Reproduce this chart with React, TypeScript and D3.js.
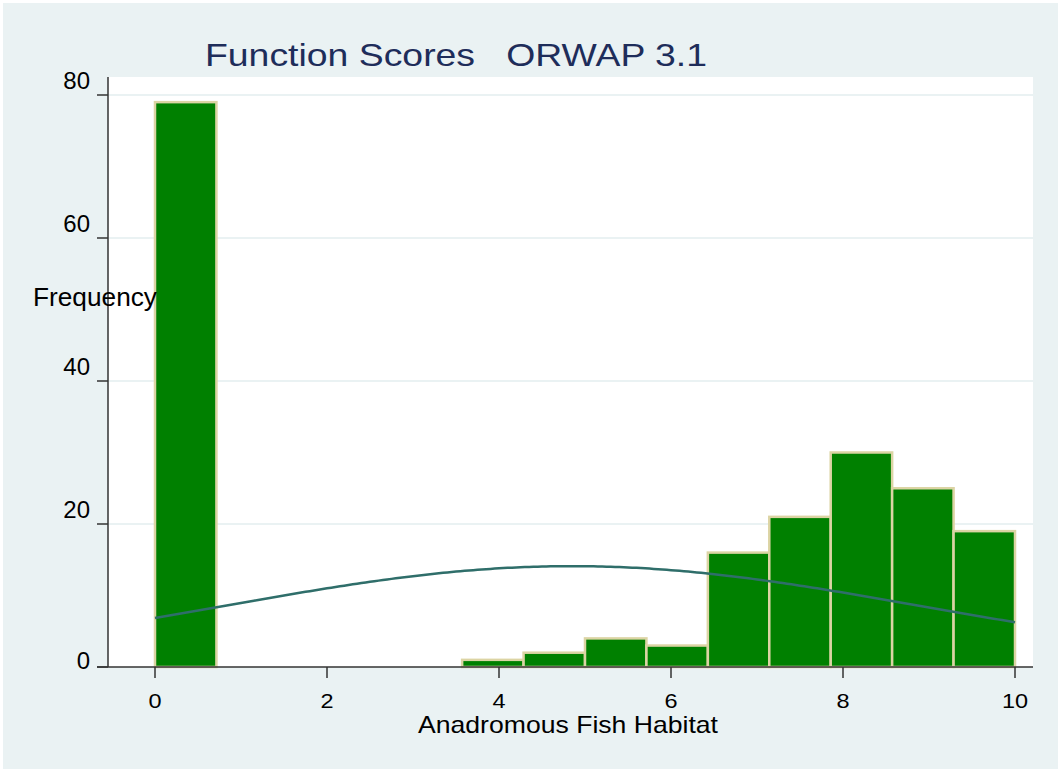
import * as d3 from "d3";
import { useEffect, useRef } from "react";

// histogram counts, 14 equal bins over 0..10
const binCounts = [79, 0, 0, 0, 0, 1, 2, 4, 3, 16, 21, 30, 25, 19];
const binStart = 0;
const binEnd = 10;

// fitted normal overlay
const normalMean = 4.85;
const normalSd = 4.04;

const xTicks = [0, 2, 4, 6, 8, 10];
const yTicks = [0, 20, 40, 60, 80];

const titleText = "Function Scores   ORWAP 3.1";
const xTitle = "Anadromous Fish Habitat";
const yTitle = "Frequency";

function App() {
  const ref = useRef<SVGSVGElement | null>(null);

  useEffect(() => {
    drawChart();
  }, []);

  const drawChart = () => {
    const W = 1061;
    const H = 772;
    const font = "'Liberation Sans', Arial, sans-serif";

    const svg = d3.select(ref.current);
    svg.selectAll("*").remove();

    // backgrounds
    svg.append("rect").attr("width", W).attr("height", H).attr("fill", "#fff");
    svg
      .append("rect")
      .attr("x", 3)
      .attr("y", 3)
      .attr("width", W - 6)
      .attr("height", H - 6)
      .attr("fill", "#EAF2F3");

    const plot = { left: 108, right: 1033, top: 77, bottom: 667 };
    svg
      .append("rect")
      .attr("x", plot.left)
      .attr("y", plot.top)
      .attr("width", plot.right - plot.left)
      .attr("height", plot.bottom - plot.top)
      .attr("fill", "#fff");

    const xScale = d3.scaleLinear().domain([0, 10]).range([155, 1015]);
    const yScale = d3.scaleLinear().domain([0, 80]).range([667, 95]);

    // grid lines
    svg
      .append("g")
      .selectAll("line")
      .data(yTicks.filter((d) => d > 0))
      .join("line")
      .attr("x1", plot.left)
      .attr("x2", plot.right)
      .attr("y1", (d) => yScale(d))
      .attr("y2", (d) => yScale(d))
      .attr("stroke", "#EAF2F3")
      .attr("stroke-width", 2);

    // bars
    const bw = (binEnd - binStart) / binCounts.length;
    const bins = binCounts.map((c, i) => ({
      x0: binStart + i * bw,
      x1: binStart + (i + 1) * bw,
      count: c,
    }));
    svg
      .append("g")
      .selectAll("rect")
      .data(bins.filter((b) => b.count > 0))
      .join("rect")
      .attr("x", (d) => xScale(d.x0))
      .attr("width", (d) => xScale(d.x1) - xScale(d.x0))
      .attr("y", (d) => yScale(d.count))
      .attr("height", (d) => yScale(0) - yScale(d.count))
      .attr("fill", "#008000")
      .attr("stroke", "#DCD4A4")
      .attr("stroke-width", 2.5);

    // normal density scaled to counts
    const total = d3.sum(binCounts);
    const xs = d3.range(0, 200 + 1).map((i) => binStart + (i / 200) * (binEnd - binStart));
    const dens = (x: number) =>
      (total * bw * Math.exp(-((x - normalMean) ** 2) / (2 * normalSd * normalSd))) /
      (normalSd * Math.sqrt(2 * Math.PI));
    const line = d3
      .line<number>()
      .x((d) => xScale(d))
      .y((d) => yScale(dens(d)));
    svg
      .append("path")
      .datum(xs)
      .attr("fill", "none")
      .attr("stroke", "#2F6E6A")
      .attr("stroke-width", 2.5)
      .attr("d", line);

    // axes
    const axisColor = "#333";
    svg
      .append("line")
      .attr("x1", plot.left)
      .attr("x2", plot.left)
      .attr("y1", plot.top)
      .attr("y2", plot.bottom)
      .attr("stroke", axisColor)
      .attr("stroke-width", 1.5);
    svg
      .append("line")
      .attr("x1", 97)
      .attr("x2", plot.right)
      .attr("y1", plot.bottom)
      .attr("y2", plot.bottom)
      .attr("stroke", axisColor)
      .attr("stroke-width", 1.5);

    const yAx = svg.append("g");
    yAx
      .selectAll("line")
      .data(yTicks)
      .join("line")
      .attr("x1", 97)
      .attr("x2", plot.left)
      .attr("y1", (d) => yScale(d))
      .attr("y2", (d) => yScale(d))
      .attr("stroke", axisColor)
      .attr("stroke-width", 1.5);
    yAx
      .selectAll("text")
      .data(yTicks)
      .join("text")
      .attr("x", 90)
      .attr("y", (d) => (d === 0 ? yScale(d) + 2 : yScale(d) - 6))
      .attr("text-anchor", "end")
      .attr("font-family", font)
      .attr("font-size", 24)
      .attr("fill", "#000")
      .text((d) => d);

    const xAx = svg.append("g");
    xAx
      .selectAll("line")
      .data(xTicks)
      .join("line")
      .attr("x1", (d) => xScale(d))
      .attr("x2", (d) => xScale(d))
      .attr("y1", plot.bottom)
      .attr("y2", plot.bottom + 11)
      .attr("stroke", axisColor)
      .attr("stroke-width", 1.5);
    xAx
      .selectAll("text")
      .data(xTicks)
      .join("text")
      .attr("transform", (d) => `translate(${xScale(d)},708) scale(1.12,1)`)
      .attr("text-anchor", "middle")
      .attr("font-family", font)
      .attr("font-size", 21)
      .attr("fill", "#000")
      .text((d) => d);

    // titles
    svg
      .append("text")
      .attr("x", 205)
      .attr("y", 66)
      .attr("font-family", font)
      .attr("font-size", 32)
      .attr("fill", "#1E2D5A")
      .attr("textLength", 502)
      .attr("lengthAdjust", "spacingAndGlyphs")
      .attr("xml:space", "preserve")
      .style("white-space", "pre")
      .text(titleText);

    svg
      .append("text")
      .attr("x", 418)
      .attr("y", 733)
      .attr("font-family", font)
      .attr("font-size", 24)
      .attr("fill", "#000")
      .attr("textLength", 300)
      .attr("lengthAdjust", "spacingAndGlyphs")
      .text(xTitle);

    svg
      .append("text")
      .attr("x", 33)
      .attr("y", 306)
      .attr("font-family", font)
      .attr("font-size", 25)
      .attr("fill", "#000")
      .attr("textLength", 124)
      .attr("lengthAdjust", "spacingAndGlyphs")
      .text(yTitle);
  };

  return (
    <div style={{ position: "absolute", left: 0, top: 0 }}>
      <svg ref={ref} width={1061} height={772} style={{ display: "block" }} />
    </div>
  );
}

export default App;
